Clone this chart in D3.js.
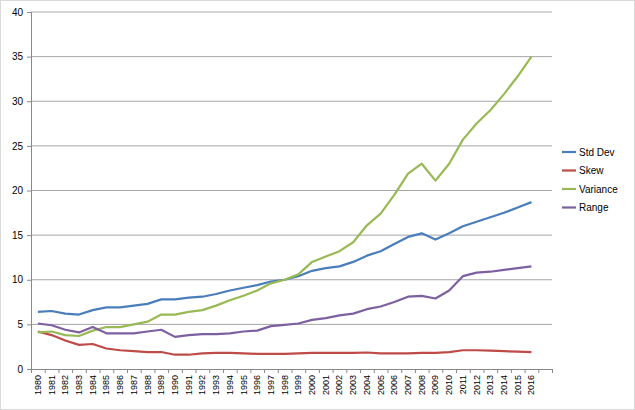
<!DOCTYPE html>
<html><head><meta charset="utf-8">
<script src="https://cdn.jsdelivr.net/npm/d3@7"></script>
<style>body{margin:0;background:#fff}text{font-family:"Liberation Sans",Arial,sans-serif}</style>
</head><body><div id="chart"></div>
<script>
const years = d3.range(1980, 2017)
const stdDev = [6.4,6.5,6.2,6.1,6.6,6.9,6.9,7.1,7.3,7.8,7.8,8.0,8.1,8.4,8.8,9.1,9.4,9.8,10.0,10.4,11.0,11.3,11.5,12.0,12.7,13.2,14.0,14.8,15.2,14.5,15.2,16.0,16.5,17.0,17.5,18.1,18.7]
const skew = [4.2,3.8,3.2,2.7,2.8,2.3,2.1,2.0,1.9,1.9,1.6,1.6,1.75,1.8,1.8,1.75,1.7,1.7,1.7,1.75,1.8,1.8,1.8,1.8,1.85,1.75,1.75,1.75,1.8,1.8,1.9,2.1,2.1,2.05,2.0,1.95,1.9]
const variance = [4.1,4.2,3.8,3.7,4.3,4.7,4.7,5.0,5.3,6.1,6.1,6.4,6.6,7.1,7.7,8.2,8.8,9.6,10.0,10.6,12.0,12.6,13.2,14.2,16.1,17.4,19.5,21.9,23.0,21.1,23.0,25.7,27.5,29.0,30.8,32.8,35.0]
const range = [5.1,4.9,4.4,4.1,4.7,4.0,4.0,4.0,4.2,4.4,3.6,3.8,3.9,3.9,4.0,4.2,4.3,4.8,4.95,5.1,5.5,5.7,6.0,6.2,6.7,7.0,7.5,8.1,8.2,7.9,8.8,10.4,10.8,10.9,11.1,11.3,11.5]
const names = ['Std Dev', 'Skew', 'Variance', 'Range']
const colors = ['#4a7ebb', '#be4b48', '#98b954', '#7d60a0']
const yTicks = d3.range(0, 41, 5)

const w = 635, h = 410
const svg = d3.select('#chart').append('svg').attr('width', w).attr('height', h)
svg.append('rect').attr('x', 0.5).attr('y', 0.5).attr('width', w - 1).attr('height', h - 1)
  .attr('fill', 'none').attr('stroke', '#d9d9d9')

const x = d3.scaleLinear().domain([1979.5, 2017.5]).range([31, 552])
const y = d3.scaleLinear().domain([0, 40]).range([369, 12])

// gridlines
svg.append('g').selectAll('line').data(yTicks.slice(1)).enter().append('line')
  .attr('x1', 31).attr('x2', 552).attr('y1', d => y(d)).attr('y2', d => y(d))
  .attr('stroke', '#a6a6a6').attr('stroke-width', 1)

svg.append('g').attr('transform', 'translate(31,0)')
  .call(d3.axisLeft(y).tickValues(yTicks).tickSize(4).tickPadding(4))
  .call(g => g.select('.domain').attr('stroke', '#888'))
  .call(g => g.selectAll('line').attr('stroke', '#888'))
  .call(g => g.selectAll('text').attr('font-size', 10).attr('fill', '#000'))

const xa = svg.append('g').attr('transform', 'translate(0,369)')
  .call(d3.axisBottom(x).tickValues(d3.range(1979.5, 2018, 1)).tickSize(4).tickFormat(''))
xa.selectAll('line, path').attr('stroke', '#888')
svg.append('g').selectAll('text').data(years).enter().append('text')
  .attr('transform', d => `translate(${x(d) + 3},375) rotate(-90)`)
  .attr('text-anchor', 'end').attr('font-size', 9).text(d => d)

const series = [stdDev, skew, variance, range]
const line = d3.line().x((d, i) => x(years[i])).y(d => y(d))
series.forEach((s, k) => {
  svg.append('path').datum(s).attr('d', line).attr('fill', 'none')
    .attr('stroke', colors[k]).attr('stroke-width', 2.2).attr('stroke-linejoin', 'round')
})

const lg = svg.append('g').selectAll('g').data(names).enter().append('g')
  .attr('transform', (d, i) => `translate(562,${152 + i * 18.5})`)
lg.append('line').attr('x1', 0).attr('x2', 14).attr('stroke', (d, i) => colors[i]).attr('stroke-width', 2.2)
lg.append('text').attr('x', 17).attr('y', 3.5).attr('font-size', 10).text(d => d)
</script></body></html>
